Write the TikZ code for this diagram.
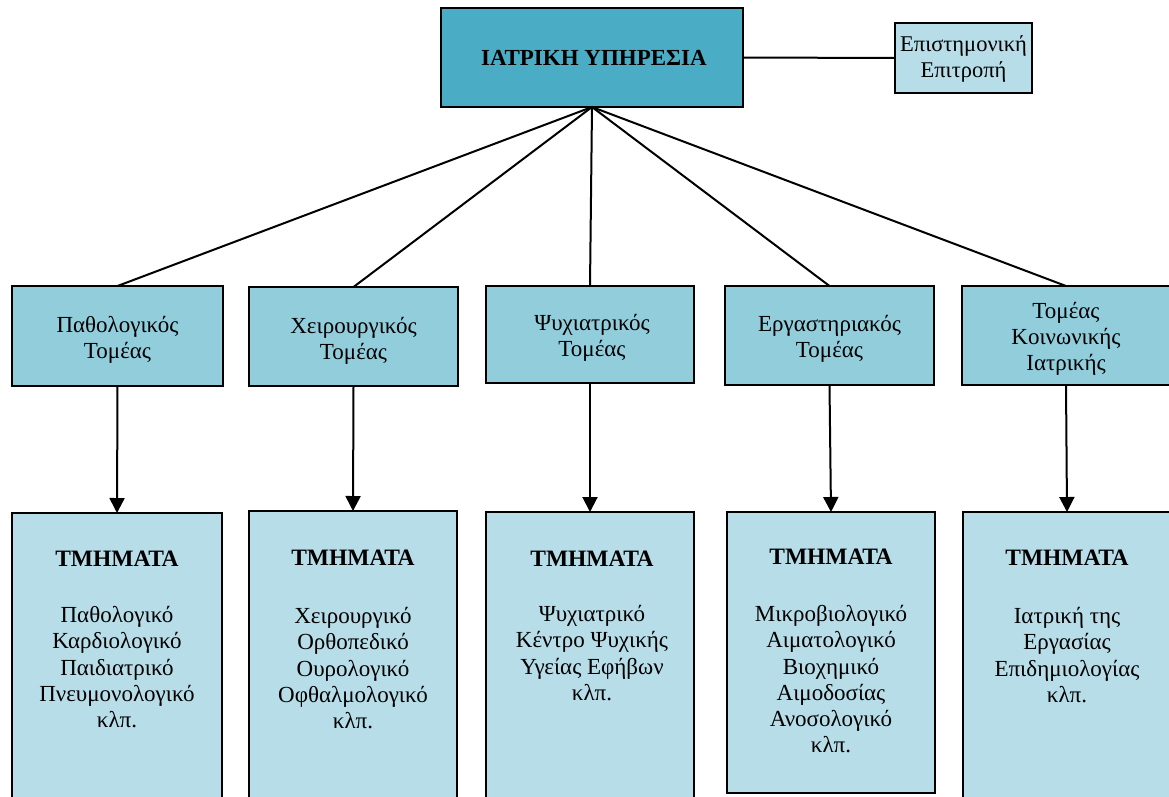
\documentclass[tikz,border=0pt]{standalone}
\usepackage{fontspec}
\setmainfont{Liberation Serif}
\usetikzlibrary{arrows.meta}
\definecolor{topc}{HTML}{4BACC6}
\definecolor{midc}{HTML}{92CDDC}
\definecolor{lowc}{HTML}{B7DDE8}
\begin{document}
\begin{tikzpicture}[x=1pt,y=-1pt,
  box/.style={draw=black, line width=2.2pt, inner sep=0pt, outer sep=0pt},
  txt/.style={font=\fontsize{23}{26.3}\selectfont, align=center, inner sep=0pt},
  head/.style={font=\fontsize{23.5}{26}\selectfont\bfseries, inner sep=0pt},
  conn/.style={line width=2pt},
  arr/.style={line width=2pt, -{Triangle[length=15pt,width=15pt]}}]
\useasboundingbox (0,0) rectangle (1169,796);
\clip (0,0) rectangle (1169,796);
% top
\node[box, fill=topc, minimum width=302pt, minimum height=99pt] (top) at (592,57.5) {};
\node[head, font=\fontsize{23}{26}\selectfont\bfseries] (toptxt) at (594,58) {ΙΑΤΡΙΚΗ ΥΠΗΡΕΣΙΑ};
\node[box, fill=lowc, minimum width=137pt, minimum height=70pt] (ep) at (963.5,58) {};
\node[txt, font=\fontsize{22.5}{26}\selectfont] (eptxt) at (963.5,59) {Επιστημονική\\Επιτροπή};
% middle boxes
\node[box, fill=midc, minimum width=211pt, minimum height=100pt] (m1) at (117.5,336) {};
\node[box, fill=midc, minimum width=209pt, minimum height=99pt] (m2) at (353.5,336.5) {};
\node[box, fill=midc, minimum width=208pt, minimum height=97pt] (m3) at (590,334.5) {};
\node[box, fill=midc, minimum width=209pt, minimum height=99pt] (m4) at (829.5,335.5) {};
\node[box, fill=midc, minimum width=208pt, minimum height=99pt] (m5) at (1066,335.5) {};
\node[txt] (mt1) at (117.5,339.5) {Παθολογικός\\Τομέας};
\node[txt] (mt2) at (353.5,341) {Χειρουργικός\\Τομέας};
\node[txt] (mt3) at (592,338) {Ψυχιατρικός\\Τομέας};
\node[txt] (mt4) at (829.5,339) {Εργαστηριακός\\Τομέας};
\node[txt] (mt5) at (1066,339) {Τομέας\\Κοινωνικής\\Ιατρικής};
% bottom boxes
\node[box, fill=lowc, minimum width=210pt, minimum height=287pt] (b1) at (117,656.5) {};
\node[box, fill=lowc, minimum width=208pt, minimum height=289pt] (b2) at (353,655.5) {};
\node[box, fill=lowc, minimum width=208pt, minimum height=288pt] (b3) at (590,656) {};
\node[box, fill=lowc, minimum width=208pt, minimum height=281pt] (b4) at (831,652.5) {};
\node[box, fill=lowc, minimum width=208pt, minimum height=288pt] (b5) at (1067,656) {};
\node[head] (h1) at (117,559) {ΤΜΗΜΑΤΑ};
\node[head] (h2) at (353,558) {ΤΜΗΜΑΤΑ};
\node[head] (h3) at (592,559) {ΤΜΗΜΑΤΑ};
\node[head] (h4) at (831,557) {ΤΜΗΜΑΤΑ};
\node[head] (h5) at (1067,558) {ΤΜΗΜΑΤΑ};
\node[txt, anchor=north] (l1) at (117,606) {Παθολογικό\\Καρδιολογικό\\Παιδιατρικό\\Πνευμονολογικό\\κλπ.};
\node[txt, anchor=north] (l2) at (353,607) {Χειρουργικό\\Ορθοπεδικό\\Ουρολογικό\\Οφθαλμολογικό\\κλπ.};
\node[txt, anchor=north] (l3) at (592,605) {Ψυχιατρικό\\Κέντρο Ψυχικής\\Υγείας Εφήβων\\κλπ.};
\node[txt, anchor=north] (l4) at (831,605) {Μικροβιολογικό\\Αιματολογικό\\Βιοχημικό\\Αιμοδοσίας\\Ανοσολογικό\\κλπ.};
\node[txt, anchor=north] (l5) at (1067,607) {Ιατρική της\\Εργασίας\\Επιδημιολογίας\\κλπ.};
% connectors
\draw[conn] (top.east) -- (ep.west);
\foreach \i in {1,...,5} {
  \draw[conn] (top.south) -- (m\i.north);
  \draw[arr] (m\i.south) -- (b\i.north);
}
\end{tikzpicture}
\end{document}
